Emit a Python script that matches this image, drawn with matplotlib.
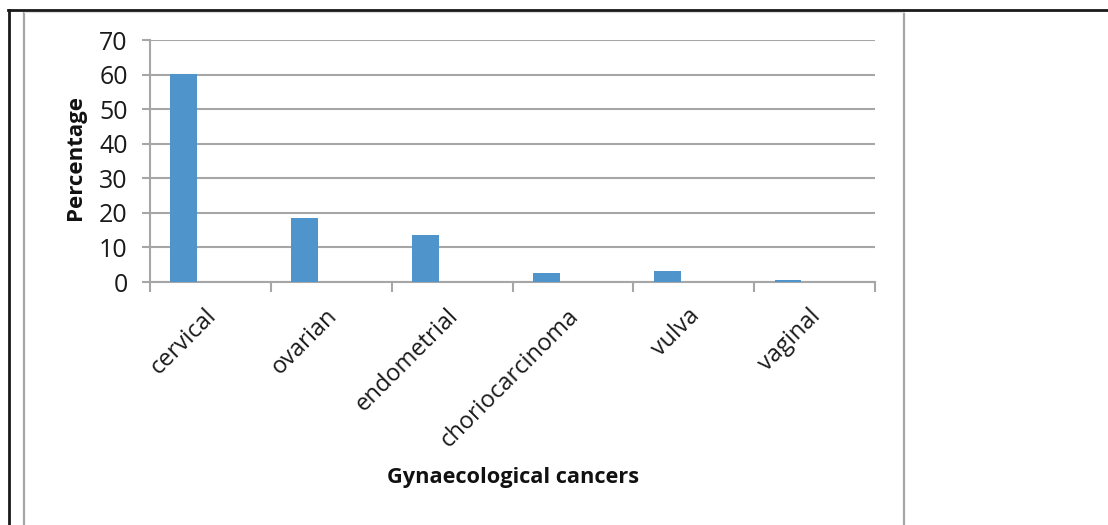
import matplotlib.pyplot as plt
from matplotlib.lines import Line2D

plt.rcParams['font.family'] = ['Open Sans', 'DejaVu Sans']

# data
cancers = ['cervical', 'ovarian', 'endometrial', 'choriocarcinoma', 'vulva', 'vaginal']
percent = [60.2, 18.5, 13.6, 2.5, 3.2, 0.6]
yticks = [0, 10, 20, 30, 40, 50, 60, 70]

W, H = 1108, 525
fig = plt.figure(figsize=(W / 100, H / 100), dpi=100)

grey = '#a6a6a6'
bar_col = '#4f95cb'

# chart area border (grey) then table cell borders (dark)
fig.add_artist(Line2D([24 / W, 24 / W], [0, 1 - 12 / H], color=grey, lw=1.6))
fig.add_artist(Line2D([904 / W, 904 / W], [0, 1 - 12 / H], color=grey, lw=1.6))
fig.add_artist(Line2D([24 / W, 904 / W], [1 - 12 / H, 1 - 12 / H], color='#dddddd', lw=0.8))
fig.add_artist(Line2D([8 / W, 1], [1 - 9.5 / H, 1 - 9.5 / H], color='#1a1a1a', lw=2.0))
fig.add_artist(Line2D([8.5 / W, 8.5 / W], [0, 1 - 9.5 / H], color='#1a1a1a', lw=2.0))

ax = fig.add_axes([150 / W, (H - 282) / H, 725 / W, 242 / H])

x = list(range(len(cancers)))
ax.bar([i - 0.22 for i in x], percent, width=0.223, color=bar_col, zorder=3)

ax.set_xlim(-0.5, len(cancers) - 0.5)
ax.set_ylim(0, 70)
ax.set_yticks(yticks)
ax.yaxis.grid(True, color=grey, lw=1.5)
ax.set_axisbelow(True)

ax.set_xticks([i - 0.5 for i in range(len(cancers) + 1)])
ax.set_xticklabels([])
ax.set_xticks([i - 0.05 for i in x], minor=True)
ax.set_xticklabels(cancers, minor=True, rotation=45, ha='right',
                   rotation_mode='anchor', fontsize=17, color='#1a1a1a')
ax.tick_params(axis='x', which='minor', length=0, pad=16)
ax.tick_params(axis='x', which='major', length=7, width=1.5, color=grey)
ax.tick_params(axis='y', length=6, width=1.5, color=grey, labelsize=18,
               labelcolor='#1a1a1a', pad=10)

for s in ['top', 'right']:
    ax.spines[s].set_visible(False)
for s in ['left', 'bottom']:
    ax.spines[s].set_color(grey)
    ax.spines[s].set_linewidth(1.5)

fig.text(75 / W, 1 - 158 / H, 'Percentage', rotation=90, fontsize=16,
         fontweight='bold', ha='center', va='center', color='#111111')
fig.text(513 / W, 1 - 478 / H, 'Gynaecological cancers', fontsize=15.7,
         fontweight='bold', ha='center', va='center', color='#111111')

fig.savefig('out.png', dpi=100, facecolor='white')
